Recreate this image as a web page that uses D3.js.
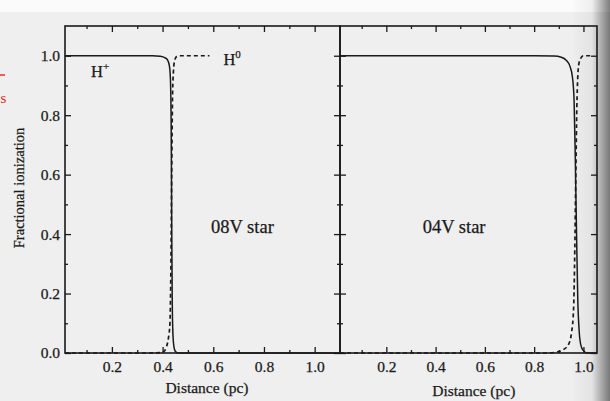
<!DOCTYPE html>
<html>
<head>
<meta charset="utf-8">
<script src="https://cdn.jsdelivr.net/npm/d3@7"></script>
<style>
  html, body { margin: 0; padding: 0; background: #efefef; }
  svg { display: block; }
  text { font-family: "Liberation Serif", "DejaVu Serif", serif; fill: #1a1a1a; stroke: #1a1a1a; stroke-width: 0.25px; }
</style>
</head>
<body>
<svg id="chart" width="610" height="401"></svg>
<script>
// Ionization front of an HII region: fraction of H+ (solid) and H0 (dashed)
// against distance from the star, for an O8V star (left) and an O4V star (right).

// O8V star
const dist08Plus = [0.015, 0.10, 0.20, 0.30, 0.36, 0.39, 0.41, 0.42, 0.427, 0.431, 0.434, 0.436, 0.438, 0.441, 0.445, 0.45, 0.46, 0.50, 0.70, 0.90, 1.10];
const hPlus08    = [1.0, 1.0, 1.0, 1.0, 1.0, 0.998, 0.993, 0.985, 0.965, 0.92, 0.75, 0.45, 0.18, 0.06, 0.02, 0.006, 0.0, 0.0, 0.0, 0.0, 0.0];
const dist08Zero = [0.015, 0.20, 0.35, 0.39, 0.405, 0.415, 0.423, 0.429, 0.433, 0.436, 0.439, 0.443, 0.448, 0.455, 0.47, 0.585];
const hZero08    = [0.0, 0.0, 0.0, 0.001, 0.005, 0.02, 0.05, 0.10, 0.30, 0.60, 0.85, 0.95, 0.985, 0.997, 1.0, 1.0];

// O4V star
const dist04Plus = [0.012, 0.20, 0.50, 0.80, 0.88, 0.91, 0.93, 0.945, 0.955, 0.962, 0.967, 0.972, 0.977, 0.983, 0.99, 1.0, 1.015, 1.055];
const hPlus04    = [1.0, 1.0, 1.0, 1.0, 0.999, 0.995, 0.985, 0.965, 0.93, 0.85, 0.65, 0.40, 0.18, 0.07, 0.025, 0.008, 0.0, 0.0];
const dist04Zero = [0.012, 0.50, 0.85, 0.89, 0.92, 0.94, 0.952, 0.96, 0.965, 0.969, 0.973, 0.977, 0.982, 0.99, 1.0, 1.03];
const hZero04    = [0.0, 0.0, 0.0, 0.003, 0.012, 0.03, 0.07, 0.15, 0.35, 0.60, 0.82, 0.93, 0.975, 0.993, 1.0, 1.0];

// Axis ticks
const xMajor = [0.2, 0.4, 0.6, 0.8, 1.0];
const xMinor = [0.1, 0.3, 0.5, 0.7, 0.9];
const yMajor = [0.0, 0.2, 0.4, 0.6, 0.8, 1.0];
const yMinor = [0.1, 0.3, 0.5, 0.7, 0.9];

const panelLabels = ["08V star", "04V star"];
const xTitle = "Distance (pc)";
const yTitle = "Fractional ionization";

const svg = d3.select("#chart");

// Paper background with darker page gutter on the right
const defs = svg.append("defs");
const grad = defs.append("linearGradient").attr("id", "gutter")
  .attr("x1", "0").attr("x2", "1").attr("y1", "0").attr("y2", "0");
grad.append("stop").attr("offset", "0").attr("stop-color", "#000").attr("stop-opacity", 0);
grad.append("stop").attr("offset", "0.55").attr("stop-color", "#000").attr("stop-opacity", 0.05);
grad.append("stop").attr("offset", "1").attr("stop-color", "#000").attr("stop-opacity", 0.5);

svg.append("rect").attr("width", 610).attr("height", 401).attr("fill", "#efefef");
svg.append("rect").attr("width", 610).attr("height", 12).attr("fill", "#fbfbfb");
svg.append("rect").attr("x", 570).attr("width", 40).attr("height", 401).attr("fill", "url(#gutter)");

const y = d3.scaleLinear().domain([0, 1.1]).range([353, 26]);
const xL = d3.scaleLinear().domain([0.015, 1.1]).range([65, 340]);
const xR = d3.scaleLinear().domain([0.012, 1.055]).range([340, 597]);

const ink = "#1a1a1a";

function styleAxis(g) {
  g.select(".domain").remove();
  g.selectAll(".tick line").attr("stroke", ink).attr("stroke-width", 1.3);
  g.selectAll(".tick text").attr("font-size", 15.5).attr("fill", ink)
    .attr("font-family", "Liberation Serif, serif");
}

function panel(x, showYLabels) {
  const [x0, x1] = x.range();
  const [yb, yt] = y.range();

  // bottom
  svg.append("g").attr("transform", `translate(0,${yb})`)
    .call(d3.axisBottom(x).tickValues(xMajor).tickSize(-6).tickPadding(8).tickFormat(d3.format(".1f")))
    .call(styleAxis);
  svg.append("g").attr("transform", `translate(0,${yb})`)
    .call(d3.axisBottom(x).tickValues(xMinor).tickSize(-3).tickFormat(""))
    .call(styleAxis);
  // top
  svg.append("g").attr("transform", `translate(0,${yt})`)
    .call(d3.axisTop(x).tickValues(xMajor).tickSize(-6).tickFormat(""))
    .call(styleAxis);
  svg.append("g").attr("transform", `translate(0,${yt})`)
    .call(d3.axisTop(x).tickValues(xMinor).tickSize(-3).tickFormat(""))
    .call(styleAxis);
  // left
  svg.append("g").attr("transform", `translate(${x0},0)`)
    .call(d3.axisLeft(y).tickValues(yMajor).tickSize(-6).tickPadding(5)
      .tickFormat(showYLabels ? d3.format(".1f") : ""))
    .call(styleAxis);
  svg.append("g").attr("transform", `translate(${x0},0)`)
    .call(d3.axisLeft(y).tickValues(yMinor).tickSize(-3).tickFormat(""))
    .call(styleAxis);
  // right
  svg.append("g").attr("transform", `translate(${x1},0)`)
    .call(d3.axisRight(y).tickValues(yMajor).tickSize(-6).tickFormat(""))
    .call(styleAxis);
  svg.append("g").attr("transform", `translate(${x1},0)`)
    .call(d3.axisRight(y).tickValues(yMinor).tickSize(-3).tickFormat(""))
    .call(styleAxis);

  // frame
  svg.append("rect").attr("x", x0).attr("y", yt)
    .attr("width", x1 - x0).attr("height", yb - yt)
    .attr("fill", "none").attr("stroke", ink).attr("stroke-width", 1.6);
}

function curve(x, xs, ys, dashed) {
  const pts = xs.map((d, i) => [d, ys[i]]);
  const line = d3.line().x(d => x(d[0])).y(d => y(d[1])).curve(d3.curveMonotoneX);
  svg.append("path").datum(pts).attr("d", line)
    .attr("fill", "none").attr("stroke", ink)
    .attr("stroke-width", dashed ? 1.7 : 1.5)
    .attr("stroke-dasharray", dashed ? "4,3" : null);
}

panel(xL, true);
panel(xR, false);

curve(xL, dist08Plus, hPlus08, false);
curve(xL, dist08Zero, hZero08, true);
curve(xR, dist04Plus, hPlus04, false);
curve(xR, dist04Zero, hZero04, true);

// Species labels
const hp = svg.append("text").attr("x", xL(0.118)).attr("y", y(0.93)).attr("font-size", 16.5);
hp.append("tspan").text("H");
hp.append("tspan").attr("dy", -7).attr("font-size", 11).text("+");
const h0 = svg.append("text").attr("x", xL(0.64)).attr("y", y(0.97)).attr("font-size", 16.5);
h0.append("tspan").text("H");
h0.append("tspan").attr("dy", -7).attr("font-size", 11).text("0");

// Panel labels
svg.append("text").attr("x", xL(0.715)).attr("y", y(0.405)).attr("text-anchor", "middle")
  .attr("font-size", 18.5).text(panelLabels[0]);
svg.append("text").attr("x", xR(0.475)).attr("y", y(0.405)).attr("text-anchor", "middle")
  .attr("font-size", 18.5).text(panelLabels[1]);

// Axis titles
svg.append("text").attr("x", xL(0.575)).attr("y", 393).attr("text-anchor", "middle")
  .attr("font-size", 15.5).text(xTitle);
svg.append("text").attr("x", xR(0.555)).attr("y", 396).attr("text-anchor", "middle")
  .attr("font-size", 15.5).text(xTitle);
svg.append("text").attr("transform", "translate(24,188) rotate(-90)")
  .attr("text-anchor", "middle").attr("font-size", 14.5).text(yTitle);

// Red margin mark
svg.append("line").attr("x1", 0).attr("x2", 5).attr("y1", 75).attr("y2", 75)
  .attr("stroke", "#e8221c").attr("stroke-width", 1.4);
svg.append("text").attr("x", 0.5).attr("y", 103).attr("font-size", 15)
  .attr("font-family", "Liberation Sans, sans-serif")
  .style("fill", "#e8221c").style("stroke", "none").text("s");
</script>
</body>
</html>
